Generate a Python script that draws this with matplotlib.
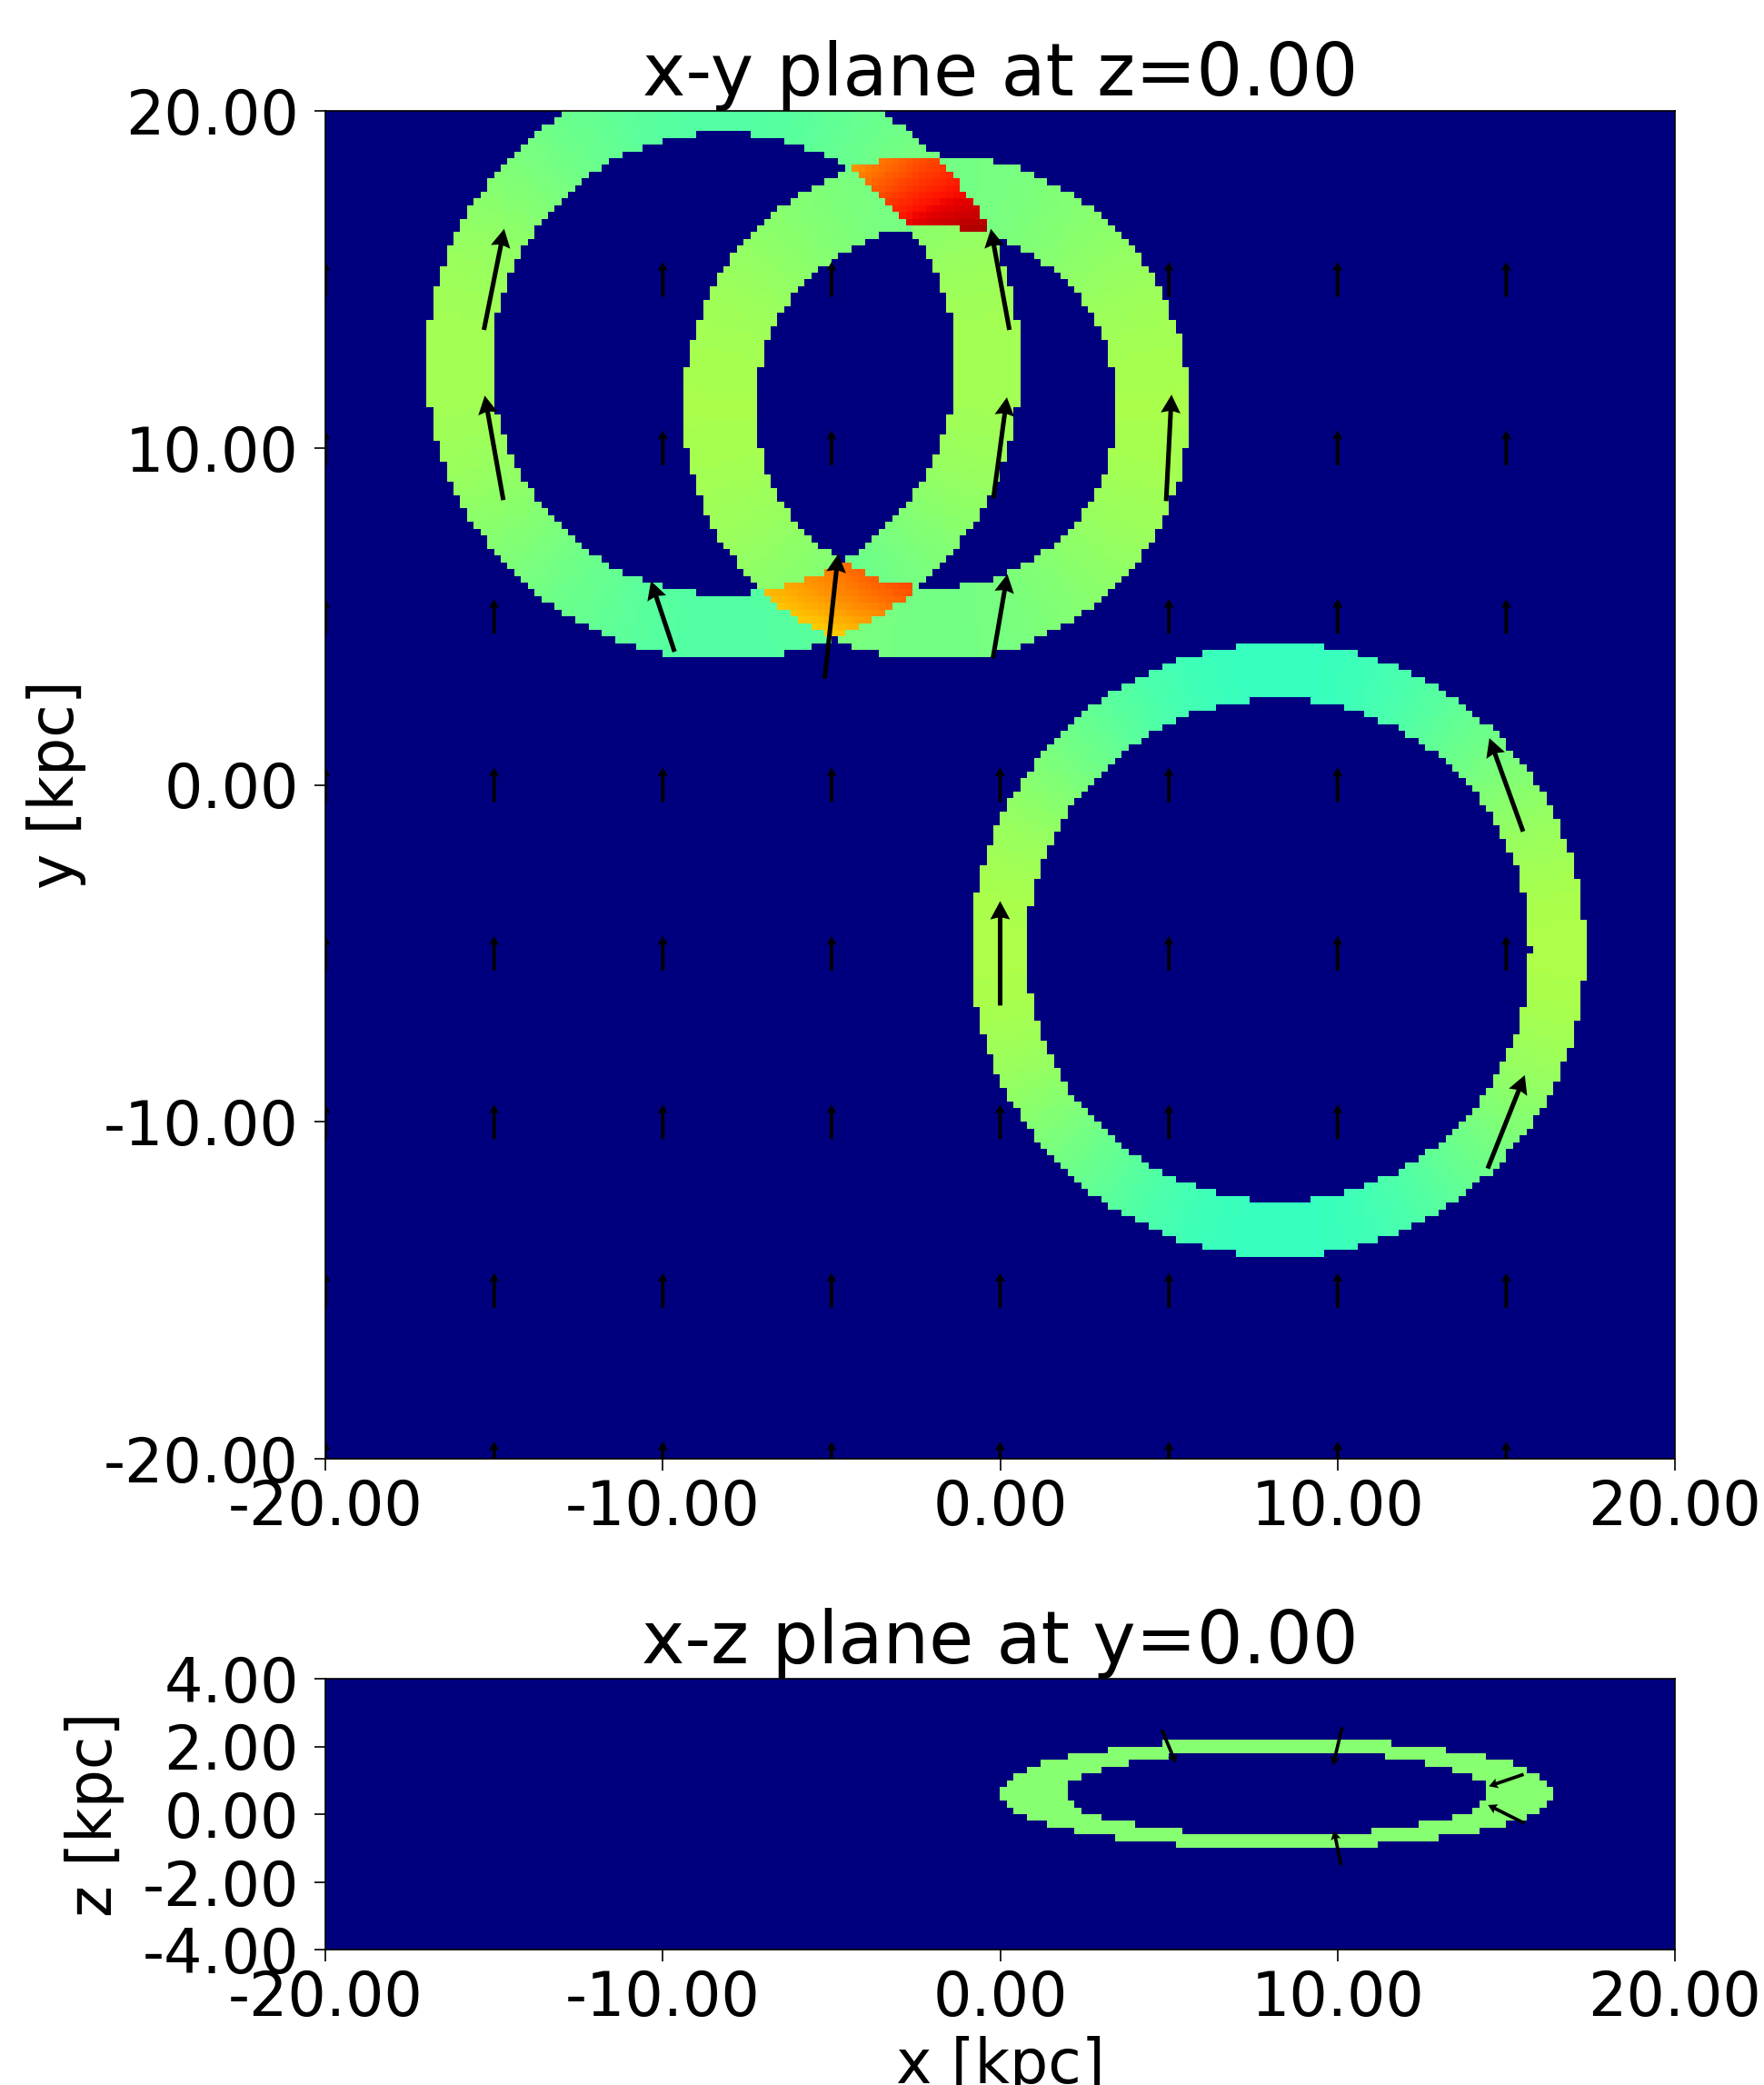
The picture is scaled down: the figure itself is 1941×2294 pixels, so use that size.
import numpy as np
import matplotlib
matplotlib.use('Agg')
import matplotlib.pyplot as plt
from matplotlib.ticker import FormatStrFormatter


##################################   values   ##########################################################

# rings seen in the x-y slice (kpc)
ring_cx = [-8.2, -1.9, 8.25]
ring_cy = [12.5, 11.2, -4.9]
ring_rin = [6.85, 5.35, 7.45]
ring_rout = [8.8, 7.5, 9.1]
ring_side = [0.55, 0.555, 0.56]     # colour value on the left/right of a ring
ring_pole = [0.45, 0.49, 0.415]     # colour value on the top/bottom of a ring

# where ring 1 and ring 2 cross: corner values (t1,t2) = (0,0),(1,0),(0,1),(1,1)
lens_top = [0.75, 0.83, 0.92, 0.97]
lens_bot = [0.71, 0.68, 0.79, 0.835]

# ellipse seen in the x-z slice
xz_cx, xz_cz = 8.2, 0.62
xz_out = [8.2, 1.63]
xz_in = [6.28, 1.25]
xz_val = 0.515

# arrows
grid_x = [-20, -15, -10, -5, 0, 5, 10, 15]
grid_y = [-20, -15, -10, -5, 0, 5, 10, 15]
bg_u, bg_v = 0.0, 1.03

ring_arrow_x = [-15, -15, -10, -5, 0, 0, 0, 5, 0, 15, 15]
ring_arrow_y = [15, 10, 5, 5, 5, 10, 15, 10, -5, 0, -10]
ring_arrow_u = [0.6, -0.55, -0.7, 0.4, 0.43, 0.4, -0.55, 0.16, 0.0, -1.0, 1.1]
ring_arrow_v = [3.0, 3.1, 2.1, 3.7, 2.5, 3.0, 3.0, 3.16, 3.1, 2.77, 2.77]

xz_arrow_x = [5, 10, 10, 15, 15]
xz_arrow_z = [2, 2, -1, 1, 0]
xz_arrow_u = [0.42, -0.27, -0.21, -1.03, -1.08]
xz_arrow_w = [-0.99, -1.13, 1.02, -0.35, 0.54]

xticks = [-20, -10, 0, 10, 20]
yticks = [-20, -10, 0, 10, 20]
zticks = [-4, -2, 0, 2, 4]


##################################   x-y slice   #######################################################

pix = 0.2
xc = np.arange(-20, 20, pix) + pix / 2
X, Y = np.meshgrid(xc, xc)
dens = np.zeros_like(X)

masks = []
radii = []
for i in range(len(ring_cx)):
    dx = X - ring_cx[i]
    dy = Y - ring_cy[i]
    r = np.hypot(dx, dy)
    m = (r >= ring_rin[i]) & (r <= ring_rout[i])
    c2 = (dx / np.maximum(r, 1e-9)) ** 2
    v = ring_pole[i] + (ring_side[i] - ring_pole[i]) * c2
    dens[m] = dens[m] + v[m]
    masks.append(m)
    radii.append(r)

both = masks[0] & masks[1]
t1 = (radii[0] - ring_rin[0]) / (ring_rout[0] - ring_rin[0])
t2 = (ring_rout[1] - radii[1]) / (ring_rout[1] - ring_rin[1])
for lens, sel in [(lens_top, Y > ring_cy[1]), (lens_bot, Y <= ring_cy[1])]:
    val = (lens[0] * (1 - t1) * (1 - t2) + lens[1] * t1 * (1 - t2)
           + lens[2] * (1 - t1) * t2 + lens[3] * t1 * t2)
    m = both & sel
    dens[m] = val[m]

# arrows on the grid
QX, QY = np.meshgrid(grid_x, grid_y)
QU = np.full(QX.shape, bg_u)
QV = np.full(QX.shape, bg_v)
big = np.zeros(QX.shape, dtype=bool)
for k in range(len(ring_arrow_x)):
    j = grid_x.index(ring_arrow_x[k])
    i = grid_y.index(ring_arrow_y[k])
    QU[i, j] = ring_arrow_u[k]
    QV[i, j] = ring_arrow_v[k]
    big[i, j] = True


##################################   x-z slice   #######################################################

zc = np.arange(-4, 4, pix) + pix / 2
XX, ZZ = np.meshgrid(xc, zc)
e_out = ((XX - xz_cx) / xz_out[0]) ** 2 + ((ZZ - xz_cz) / xz_out[1]) ** 2
e_in = ((XX - xz_cx) / xz_in[0]) ** 2 + ((ZZ - xz_cz) / xz_in[1]) ** 2
dens_xz = np.where((e_out <= 1) & (e_in > 1), xz_val, 0.0)


##################################   figure   ##########################################################

plt.rcParams['font.family'] = 'DejaVu Sans'
plt.rcParams['font.size'] = 48

fig = plt.figure(figsize=(19.41, 22.94), dpi=100)
ax1 = fig.add_axes([358 / 1941, 1 - 1605 / 2294, 1485 / 1941, 1483 / 2294])
ax2 = fig.add_axes([358 / 1941, 1 - 2145 / 2294, 1485 / 1941, 298 / 2294])

ax1.imshow(dens, origin='lower', extent=[-20, 20, -20, 20], cmap='jet',
           vmin=0, vmax=1, interpolation='nearest', aspect='auto')
ax1.quiver(QX[~big], QY[~big], QU[~big], QV[~big], angles='xy', scale_units='xy',
           scale=1, pivot='middle', color='black', width=0.0026,
           headwidth=3.0, headlength=2.6, headaxislength=2.3)
ax1.quiver(QX[big], QY[big], QU[big], QV[big], angles='xy', scale_units='xy',
           scale=1, pivot='middle', color='black', width=0.0034,
           headwidth=4.3, headlength=4.0, headaxislength=3.6)
ax1.set_xlim(-20, 20)
ax1.set_ylim(-20, 20)
ax1.set_title('x-y plane at z=0.00', fontsize=57.6, pad=4)
ax1.set_ylabel('y [kpc]', labelpad=14)
ax1.set_xticks(xticks)
ax1.set_yticks(yticks)

ax2.imshow(dens_xz, origin='lower', extent=[-20, 20, -4, 4], cmap='jet',
           vmin=0, vmax=1, interpolation='nearest', aspect='auto')
ax2.quiver(xz_arrow_x, xz_arrow_z, xz_arrow_u, xz_arrow_w, angles='xy',
           scale_units='xy', scale=1, pivot='middle', color='black',
           width=0.0025, headwidth=3.0, headlength=2.6, headaxislength=2.3)
ax2.set_xlim(-20, 20)
ax2.set_ylim(-4, 4)
ax2.set_title('x-z plane at y=0.00', fontsize=57.6, pad=0)
ax2.set_xlabel('x [kpc]', labelpad=6)
ax2.set_ylabel('z [kpc]', labelpad=14)
ax2.set_xticks(xticks)
ax2.set_yticks(zticks)

for ax in [ax1, ax2]:
    ax.xaxis.set_major_formatter(FormatStrFormatter('%.2f'))
    ax.yaxis.set_major_formatter(FormatStrFormatter('%.2f'))
    ax.tick_params(axis='both', length=9, width=1.2)
    ax.tick_params(axis='x', pad=6)
    ax.tick_params(axis='y', pad=12)
    for s in ax.spines.values():
        s.set_linewidth(1.2)

fig.savefig('out.png', dpi=100)
